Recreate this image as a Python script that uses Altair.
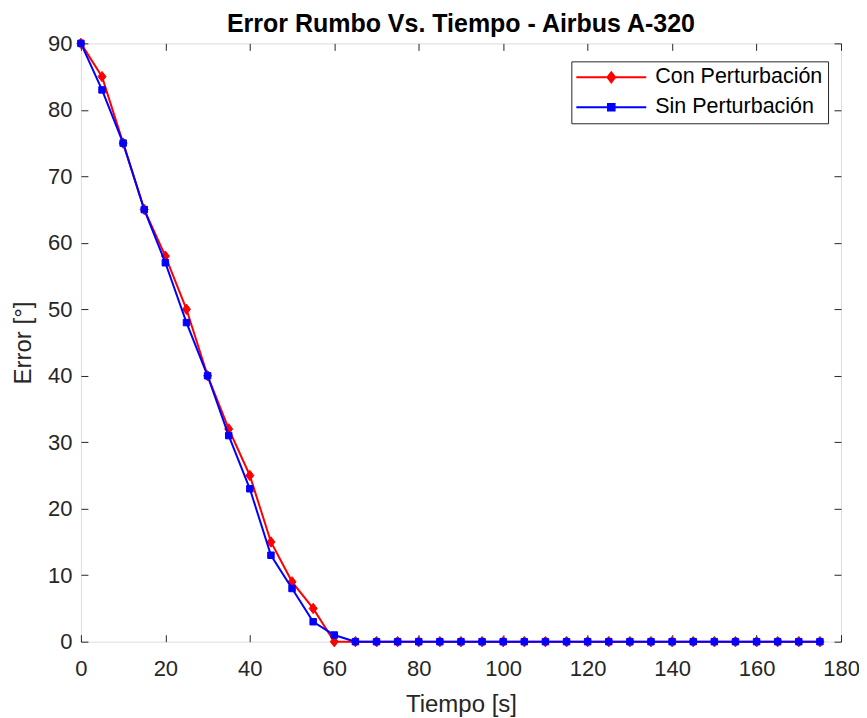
import altair as alt
import pandas as pd

# ---------------- data ----------------
tiempo = [0, 5, 10, 15, 20, 25, 30, 35, 40, 45, 50, 55, 60, 65, 70, 75, 80, 85,
          90, 95, 100, 105, 110, 115, 120, 125, 130, 135, 140, 145, 150, 155, 160, 165, 170, 175]
con_perturbacion = [90, 85, 75, 65, 58, 50, 40, 32, 25, 15, 9, 5, 0, 0, 0, 0, 0, 0,
                    0, 0, 0, 0, 0, 0, 0, 0, 0, 0, 0, 0, 0, 0, 0, 0, 0, 0]
sin_perturbacion = [90, 83, 75, 65, 57, 48, 40, 31, 23, 13, 8, 3, 1, 0, 0, 0, 0, 0,
                    0, 0, 0, 0, 0, 0, 0, 0, 0, 0, 0, 0, 0, 0, 0, 0, 0, 0]
series = ["Con Perturbación", "Sin Perturbación"]
colores = ["#ff0000", "#0000ff"]
x_ticks = [0, 20, 40, 60, 80, 100, 120, 140, 160, 180]
y_ticks = [0, 10, 20, 30, 40, 50, 60, 70, 80, 90]

df = pd.DataFrame({
    "t": tiempo + tiempo,
    "v": con_perturbacion + sin_perturbacion,
    "serie": [series[0]] * len(tiempo) + [series[1]] * len(tiempo),
})

FONT = "Liberation Sans"
AX = "#262626"
DIAMOND = "M0,-1.3L1,0L0,1.3L-1,0Z"
SQUARE = "M-1,-1H1V1H-1Z"
# legend symbols (nominal size 400 -> unit = 10px): a 70px line with a solid-looking marker
LEG_CON = ("M-3.5,0H3.5M0,-0.5L0.38,0L0,0.5L-0.38,0Z"
           "M0,-0.3L0.2,0L0,0.3L-0.2,0ZM0,-0.45V0.45")
LEG_SIN = ("M-3.5,0H3.5M-0.33,-0.33H0.33V0.33H-0.33Z"
           "M-0.15,-0.15H0.15V0.15H-0.15ZM0,-0.3V0.3")

xs = alt.Scale(domain=[0, 180], nice=False, zero=False)
ys = alt.Scale(domain=[0, 90], nice=False, zero=False)

common_axis = dict(domain=False, tickSize=7, tickColor=AX, tickWidth=1, grid=False,
                   labelColor=AX, labelFont=FONT, labelFontSize=22, titleFont=FONT,
                   titleColor=AX, titleFontWeight="normal", labelFlush=False, offset=-7)

x_bottom = alt.Axis(orient="bottom", values=x_ticks, labelPadding=17, title="Tiempo [s]",
                    titleFontSize=24, titlePadding=13, **common_axis)
y_left = alt.Axis(orient="left", values=y_ticks, labelPadding=9, title="Error [°]",
                  titleFontSize=24, titlePadding=12, **common_axis)
x_top = alt.Axis(orient="top", values=x_ticks, labels=False, title=None, **common_axis)
y_right = alt.Axis(orient="right", values=y_ticks, labels=False, title=None, **common_axis)


def layer_line(name, color, axes=False):
    d = df[df["serie"] == name]
    return alt.Chart(d).mark_line(color=color, strokeWidth=2).encode(
        x=alt.X("t:Q", scale=xs, axis=x_bottom if axes else None),
        y=alt.Y("v:Q", scale=ys, axis=y_left if axes else None),
    )


def layer_pts(name, color, shape, size):
    d = df[df["serie"] == name]
    return alt.Chart(d).mark_point(shape=shape, size=size, filled=True, color=color,
                                   stroke=color, strokeWidth=1, opacity=1).encode(
        x=alt.X("t:Q", scale=xs, axis=None),
        y=alt.Y("v:Q", scale=ys, axis=None),
    )


# frame layer: ticks on top and right (invisible marks)
frame = alt.Chart(df).mark_point(opacity=0).encode(
    x=alt.X("t:Q", scale=xs, axis=x_top),
    y=alt.Y("v:Q", scale=ys, axis=y_right),
)

legend = alt.Legend(title=None, orient="none", legendX=491, legendY=18,
                    labelFont=FONT, labelFontSize=21.5, labelColor="#000000",
                    fillColor="#ffffff", strokeColor=AX, padding=5, cornerRadius=0,
                    symbolStrokeWidth=2, symbolOffset=24, labelOffset=33, rowPadding=8,
                    symbolSize=400, labelLimit=400)

holder = alt.Chart(df[df["t"] == 0]).mark_point(opacity=0, filled=True, size=400).encode(
    x=alt.X("t:Q", scale=xs, axis=None),
    y=alt.Y("v:Q", scale=ys, axis=None),
    shape=alt.Shape("serie:N", scale=alt.Scale(domain=series, range=[LEG_CON, LEG_SIN]), legend=legend),
    fill=alt.Fill("serie:N", scale=alt.Scale(domain=series, range=colores), legend=legend),
    stroke=alt.Stroke("serie:N", scale=alt.Scale(domain=series, range=colores), legend=legend),
)

chart = alt.layer(
    layer_line(series[0], colores[0], axes=True),
    layer_pts(series[0], colores[0], DIAMOND, 64),
    layer_line(series[1], colores[1]),
    layer_pts(series[1], colores[1], SQUARE, 42),
    frame,
    holder,
).resolve_axis(x="independent", y="independent").properties(
    width=761,
    height=599,
    title=alt.TitleParams("Error Rumbo Vs. Tiempo - Airbus A-320", font=FONT, fontSize=25,
                          fontWeight="bold", color="#000000", anchor="middle", offset=-5),
    autosize=alt.AutoSizeParams(type="none"),
    padding={"left": 73, "top": 35, "right": 18, "bottom": 75},
).configure_view(stroke=AX, strokeWidth=1).configure(background="#ffffff")

chart.save("out.html", embed_options={"renderer": "svg", "actions": False})
